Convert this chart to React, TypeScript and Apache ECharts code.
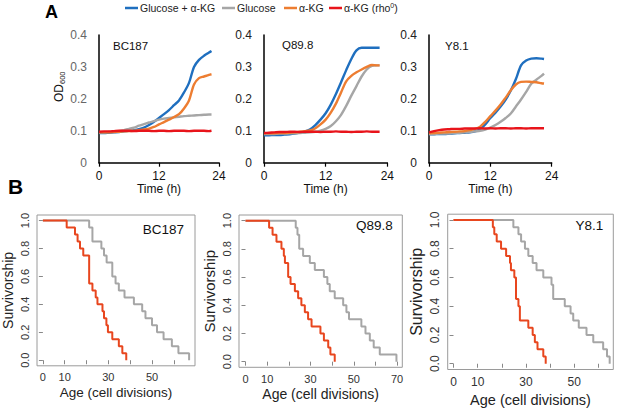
import React, { useEffect, useRef } from "react";
import * as echarts from "echarts";

const FONT = "Liberation Sans, Arial, sans-serif";

// ---------- Panel A : growth curves (OD600 vs time) ----------
const hours = [0, 1, 2, 3, 4, 5, 6, 7, 8, 9, 10, 11, 12, 13, 14, 15, 16, 17, 18, 19, 20, 21, 22, 22.5];
const strainsA = ["BC187", "Q89.8", "Y8.1"];
const conditions = ["Glucose + α-KG", "Glucose", "α-KG", "α-KG (rho0)"];
const condColors = ["#1f6fbf", "#a6a6a6", "#ed7d31", "#e8141b"];

const bc187Blue = [0.093, 0.093, 0.094, 0.095, 0.096, 0.098, 0.1, 0.102, 0.105, 0.11, 0.118, 0.128, 0.14, 0.152, 0.165, 0.18, 0.195, 0.22, 0.25, 0.3, 0.322, 0.335, 0.345, 0.35];
const bc187Gray = [0.095, 0.095, 0.096, 0.097, 0.099, 0.102, 0.106, 0.11, 0.116, 0.121, 0.126, 0.13, 0.135, 0.138, 0.14, 0.142, 0.144, 0.146, 0.147, 0.148, 0.149, 0.15, 0.151, 0.151];
const bc187Orange = [0.095, 0.095, 0.095, 0.096, 0.097, 0.098, 0.099, 0.1, 0.102, 0.104, 0.107, 0.112, 0.12, 0.127, 0.135, 0.143, 0.152, 0.17, 0.195, 0.245, 0.265, 0.27, 0.275, 0.277];
const bc187Red = [0.097, 0.098, 0.098, 0.099, 0.1, 0.1, 0.1, 0.099, 0.1, 0.1, 0.1, 0.099, 0.1, 0.1, 0.099, 0.1, 0.1, 0.1, 0.099, 0.1, 0.1, 0.1, 0.099, 0.1];

const q898Blue = [0.086, 0.086, 0.087, 0.087, 0.088, 0.089, 0.091, 0.094, 0.098, 0.105, 0.118, 0.135, 0.155, 0.182, 0.215, 0.252, 0.29, 0.325, 0.352, 0.36, 0.36, 0.36, 0.36, 0.36];
const q898Gray = [0.09, 0.09, 0.09, 0.091, 0.091, 0.092, 0.092, 0.093, 0.094, 0.095, 0.097, 0.1, 0.106, 0.115, 0.13, 0.15, 0.178, 0.21, 0.24, 0.27, 0.292, 0.303, 0.305, 0.305];
const q898Orange = [0.092, 0.092, 0.092, 0.093, 0.093, 0.094, 0.095, 0.097, 0.099, 0.101, 0.108, 0.12, 0.135, 0.157, 0.185, 0.22, 0.255, 0.272, 0.283, 0.292, 0.3, 0.306, 0.305, 0.305];
const q898Red = [0.093, 0.094, 0.095, 0.096, 0.096, 0.097, 0.097, 0.096, 0.097, 0.097, 0.097, 0.096, 0.097, 0.097, 0.098, 0.097, 0.097, 0.096, 0.097, 0.097, 0.098, 0.097, 0.097, 0.097];

const y81Blue = [0.089, 0.089, 0.09, 0.09, 0.091, 0.092, 0.093, 0.094, 0.095, 0.098, 0.105, 0.12, 0.14, 0.157, 0.176, 0.198, 0.226, 0.262, 0.305, 0.32, 0.326, 0.327, 0.326, 0.325];
const y81Gray = [0.09, 0.09, 0.091, 0.091, 0.092, 0.093, 0.094, 0.095, 0.096, 0.098, 0.1, 0.104, 0.11, 0.118, 0.128, 0.14, 0.154, 0.176, 0.198, 0.222, 0.247, 0.26, 0.272, 0.279];
const y81Orange = [0.092, 0.093, 0.094, 0.095, 0.096, 0.097, 0.098, 0.099, 0.102, 0.106, 0.113, 0.128, 0.146, 0.163, 0.182, 0.204, 0.227, 0.245, 0.253, 0.254, 0.253, 0.252, 0.249, 0.248];
const y81Red = [0.095, 0.099, 0.102, 0.104, 0.105, 0.106, 0.106, 0.107, 0.107, 0.107, 0.108, 0.107, 0.108, 0.107, 0.108, 0.108, 0.107, 0.108, 0.108, 0.107, 0.108, 0.108, 0.108, 0.108];

const growth = [
  [bc187Blue, bc187Gray, bc187Orange, bc187Red],
  [q898Blue, q898Gray, q898Orange, q898Red],
  [y81Blue, y81Gray, y81Orange, y81Red],
];

// ---------- Panel B : survivorship (Kaplan-Meier) ----------
const strainsB = ["BC187", "Q89.8", "Y8.1"];
const kmColors = ["#a6a6a6", "#e8461e"];

const bc187GrayAges = [0, 21.2, 22.7, 26.8, 28, 29.2, 31.8, 33.3, 34.8, 37.4, 41.7, 45.5, 47, 50, 52.3, 55.3, 59.1, 62.1, 67];
const bc187GraySurv = [1, 0.95, 0.85, 0.8, 0.75, 0.7, 0.6, 0.55, 0.5, 0.45, 0.4, 0.35, 0.3, 0.25, 0.2, 0.15, 0.1, 0.05, 0];
const bc187RedAges = [0, 10.9, 14.7, 15.9, 17, 18.5, 21.2, 22.7, 24.2, 25, 27.3, 28, 29.1, 29.8, 31.8, 34.8, 36.4, 38.2];
const bc187RedSurv = [1, 0.95, 0.9, 0.85, 0.8, 0.75, 0.55, 0.5, 0.45, 0.4, 0.35, 0.3, 0.25, 0.2, 0.15, 0.1, 0.05, 0];

const q898GrayAges = [0, 23.2, 24, 24.8, 26.6, 29.7, 32, 36.2, 37.8, 38.9, 41.2, 45.1, 46.6, 47.8, 53.5, 55.4, 57.4, 59.2, 62, 69.7];
const q898GraySurv = [1, 0.95, 0.9, 0.8, 0.75, 0.7, 0.65, 0.6, 0.55, 0.5, 0.45, 0.4, 0.35, 0.3, 0.25, 0.2, 0.15, 0.1, 0.05, 0];
const q898RedAges = [0, 10.9, 12.5, 14.3, 16.6, 17.7, 18.2, 19.7, 20.8, 22.8, 24.3, 25.8, 27.4, 28.9, 30.5, 34.6, 36.2, 38.2, 39.2, 41.2];
const q898RedSurv = [1, 0.95, 0.9, 0.85, 0.8, 0.75, 0.7, 0.6, 0.55, 0.5, 0.45, 0.4, 0.35, 0.3, 0.25, 0.2, 0.15, 0.1, 0.05, 0];

const y81GrayAges = [0, 24.8, 26.9, 28, 29.6, 31, 32.8, 34.4, 37.2, 40.6, 41.3, 46.1, 48.5, 49.6, 51.9, 55.1, 57.9, 62, 63.6, 64.7];
const y81GraySurv = [1, 0.95, 0.9, 0.85, 0.8, 0.75, 0.7, 0.65, 0.6, 0.55, 0.45, 0.4, 0.35, 0.3, 0.25, 0.2, 0.15, 0.1, 0.05, 0];
const y81RedAges = [0, 16.3, 16.9, 17.9, 19.7, 21.8, 23.4, 23.8, 25.2, 25.9, 26.9, 27.5, 31, 32.8, 33.7, 34.8, 37.2, 38.2];
const y81RedSurv = [1, 0.95, 0.9, 0.85, 0.8, 0.75, 0.7, 0.65, 0.6, 0.45, 0.4, 0.3, 0.25, 0.2, 0.15, 0.1, 0.05, 0];

const survival = [
  [[bc187GrayAges, bc187GraySurv], [bc187RedAges, bc187RedSurv]],
  [[q898GrayAges, q898GraySurv], [q898RedAges, q898RedSurv]],
  [[y81GrayAges, y81GraySurv], [y81RedAges, y81RedSurv]],
];
const survTicks = [0, 0.2, 0.4, 0.6, 0.8, 1.0];
const ageTicksB = [
  [0, 10, 20, 30, 40, 50, 60],
  [0, 10, 20, 30, 40, 50, 60, 70],
  [0, 10, 20, 30, 40, 50, 60],
];
const ageLabelsB = [
  [0, 10, 30, 50],
  [0, 10, 30, 50, 70],
  [0, 10, 30, 50],
];

// layout (positions / sizes)
const aLayout = [
  { left: 99, top: 35, width: 120, height: 127.7, labelColor: "#666" },
  { left: 264, top: 35, width: 123.3, height: 127.7, labelColor: "#222" },
  { left: 429, top: 35, width: 122.7, height: 127.7, labelColor: "#222" },
];
const bLayout = [
  { left: 35.7, top: 215, width: 159.3, height: 150.8, xMin: -2.7, xMax: 69.7, tick: 11, title: 13.5, yTitle: 14, xGap: 20, yGap: 22 },
  { left: 239, top: 215, width: 163.3, height: 152.3, xMin: -3, xMax: 72.4, tick: 11, title: 14, yTitle: 15, xGap: 19.5, yGap: 22 },
  { left: 447.7, top: 214.2, width: 165.6, height: 157.3, xMin: -2.4, xMax: 66.2, tick: 12, title: 14.5, yTitle: 16, xGap: 22.5, yGap: 23 },
];

function buildOption() {
  const grid: any[] = [];
  const xAxis: any[] = [];
  const yAxis: any[] = [];
  const series: any[] = [];

  aLayout.forEach((g, i) => {
    grid.push({ left: g.left, top: g.top, width: g.width, height: g.height });
    xAxis.push({
      type: "value", gridIndex: i, min: 0, max: 24, interval: 12,
      axisLine: { show: true, lineStyle: { color: "#000", width: 1.5 } },
      axisTick: { show: true, length: 4, lineStyle: { color: "#000", width: 1.2 } },
      axisLabel: { color: "#111", fontSize: 12, fontFamily: FONT, margin: 7 },
      splitLine: { show: false },
      name: "Time (h)", nameLocation: "middle", nameGap: 19,
      nameTextStyle: { color: "#111", fontSize: 12, fontFamily: FONT },
    });
    yAxis.push({
      type: "value", gridIndex: i, min: 0, max: 0.4, interval: 0.1,
      axisLine: { show: true, lineStyle: { color: "#000", width: 1.5 } },
      axisTick: { show: false },
      axisLabel: {
        color: g.labelColor, fontSize: 12, fontFamily: FONT, margin: 12,
        formatter: (v: number) => (v === 0 ? "0" : v.toFixed(1)),
      },
      splitLine: { show: false },
    });
    growth[i].forEach((vals, k) => {
      series.push({
        type: "line", name: conditions[k], xAxisIndex: i, yAxisIndex: i,
        data: hours.map((h, j) => [h, vals[j]]),
        showSymbol: false, smooth: 0.3,
        lineStyle: { color: condColors[k], width: 2.4 },
        itemStyle: { color: condColors[k] },
        z: 2 + k,
      });
    });
  });

  bLayout.forEach((g, i) => {
    const gi = 3 + i;
    const shown = ageLabelsB[i];
    grid.push({ left: g.left, top: g.top, width: g.width, height: g.height, show: true, borderColor: "#9a9a9a", borderWidth: 1 });
    xAxis.push({
      type: "value", gridIndex: gi, min: g.xMin, max: g.xMax,
      axisLine: { show: false },
      axisTick: { show: true, length: 4, customValues: ageTicksB[i], lineStyle: { color: "#888" } },
      axisLabel: {
        color: "#333", fontSize: g.tick, fontFamily: FONT, margin: 6, hideOverlap: false,
        customValues: ageTicksB[i],
        formatter: (v: number) => (shown.indexOf(v) >= 0 ? String(v) : ""),
      },
      splitLine: { show: false },
      name: "Age (cell divisions)", nameLocation: "middle", nameGap: g.xGap,
      nameTextStyle: { color: "#222", fontSize: g.title, fontFamily: FONT },
    });
    yAxis.push({
      type: "value", gridIndex: gi, min: -0.04, max: 1.04,
      axisLine: { show: false },
      axisTick: { show: true, length: 4, customValues: survTicks, lineStyle: { color: "#888" } },
      axisLabel: {
        color: "#333", fontSize: g.tick, fontFamily: FONT, margin: 7, rotate: 90,
        customValues: survTicks, formatter: (v: number) => v.toFixed(1),
      },
      splitLine: { show: false },
      name: "Survivorship", nameLocation: "middle", nameGap: g.yGap, nameRotate: 90,
      nameTextStyle: { color: "#222", fontSize: g.yTitle, fontFamily: FONT },
    });
    survival[i].forEach(([ages, surv], k) => {
      series.push({
        type: "line", xAxisIndex: gi, yAxisIndex: gi, step: "end",
        data: ages.map((a, j) => [a, surv[j]]),
        showSymbol: false,
        lineStyle: { color: kmColors[k], width: 2 },
        z: 2 + k,
      });
    });
  });

  const legendX = [125, 222, 284, 329];
  const graphic: any[] = [
    { type: "text", left: 45, top: 3, style: { text: "A", font: `bold 18px ${FONT}`, fill: "#000" } },
    { type: "text", left: 8, top: 176, style: { text: "B", font: `bold 21px ${FONT}`, fill: "#000" } },
  ];
  conditions.forEach((c, k) => {
    const x = legendX[k];
    graphic.push({ type: "line", shape: { x1: x, y1: 8, x2: x + 13, y2: 8 }, style: { stroke: condColors[k], lineWidth: 2.5 } });
    if (k < 3) {
      graphic.push({ type: "text", x: x + 15, y: 8, style: { text: c, font: `10.5px ${FONT}`, fill: "#222", textVerticalAlign: "middle" } });
    } else {
      graphic.push({
        type: "text", x: x + 15, y: 8,
        style: {
          text: "α-KG (rho{sup|0})", font: `10.5px ${FONT}`, fill: "#222", textVerticalAlign: "middle",
          rich: { sup: { fontSize: 7, fontFamily: FONT, fill: "#222", padding: [0, 0, 6, 0] } },
        },
      });
    }
  });
  // OD600 y-axis title
  graphic.push({
    type: "group", x: 59, y: 86, rotation: Math.PI / 2,
    children: [
      { type: "text", x: -16, y: 0, style: { text: "OD", font: `12px ${FONT}`, fill: "#111", textVerticalAlign: "middle" } },
      { type: "text", x: 2, y: 3, style: { text: "600", font: `7.5px ${FONT}`, fill: "#111", textVerticalAlign: "middle" } },
    ],
  });
  const aNamePos = [[113, 45.5], [282, 45], [445, 46]];
  strainsA.forEach((s, i) => {
    graphic.push({ type: "text", x: aNamePos[i][0], y: aNamePos[i][1], style: { text: s, font: `11.5px ${FONT}`, fill: "#111", textVerticalAlign: "middle" } });
  });
  const bNamePos = [[184, 229], [392.7, 225], [603.3, 225]];
  strainsB.forEach((s, i) => {
    graphic.push({ type: "text", x: bNamePos[i][0], y: bNamePos[i][1], style: { text: s, font: `13.5px ${FONT}`, fill: "#111", textAlign: "right", textVerticalAlign: "middle" } });
  });

  return { animation: false, backgroundColor: "#fff", grid, xAxis, yAxis, series, graphic };
}

export default function App() {
  const ref = useRef<HTMLDivElement>(null);
  useEffect(() => {
    const chart = echarts.init(ref.current!, null, { renderer: "svg" });
    chart.setOption(buildOption() as any);
    return () => chart.dispose();
  }, []);
  return <div ref={ref} style={{ position: "fixed", left: 0, top: 0, width: 617, height: 408 }} />;
}
